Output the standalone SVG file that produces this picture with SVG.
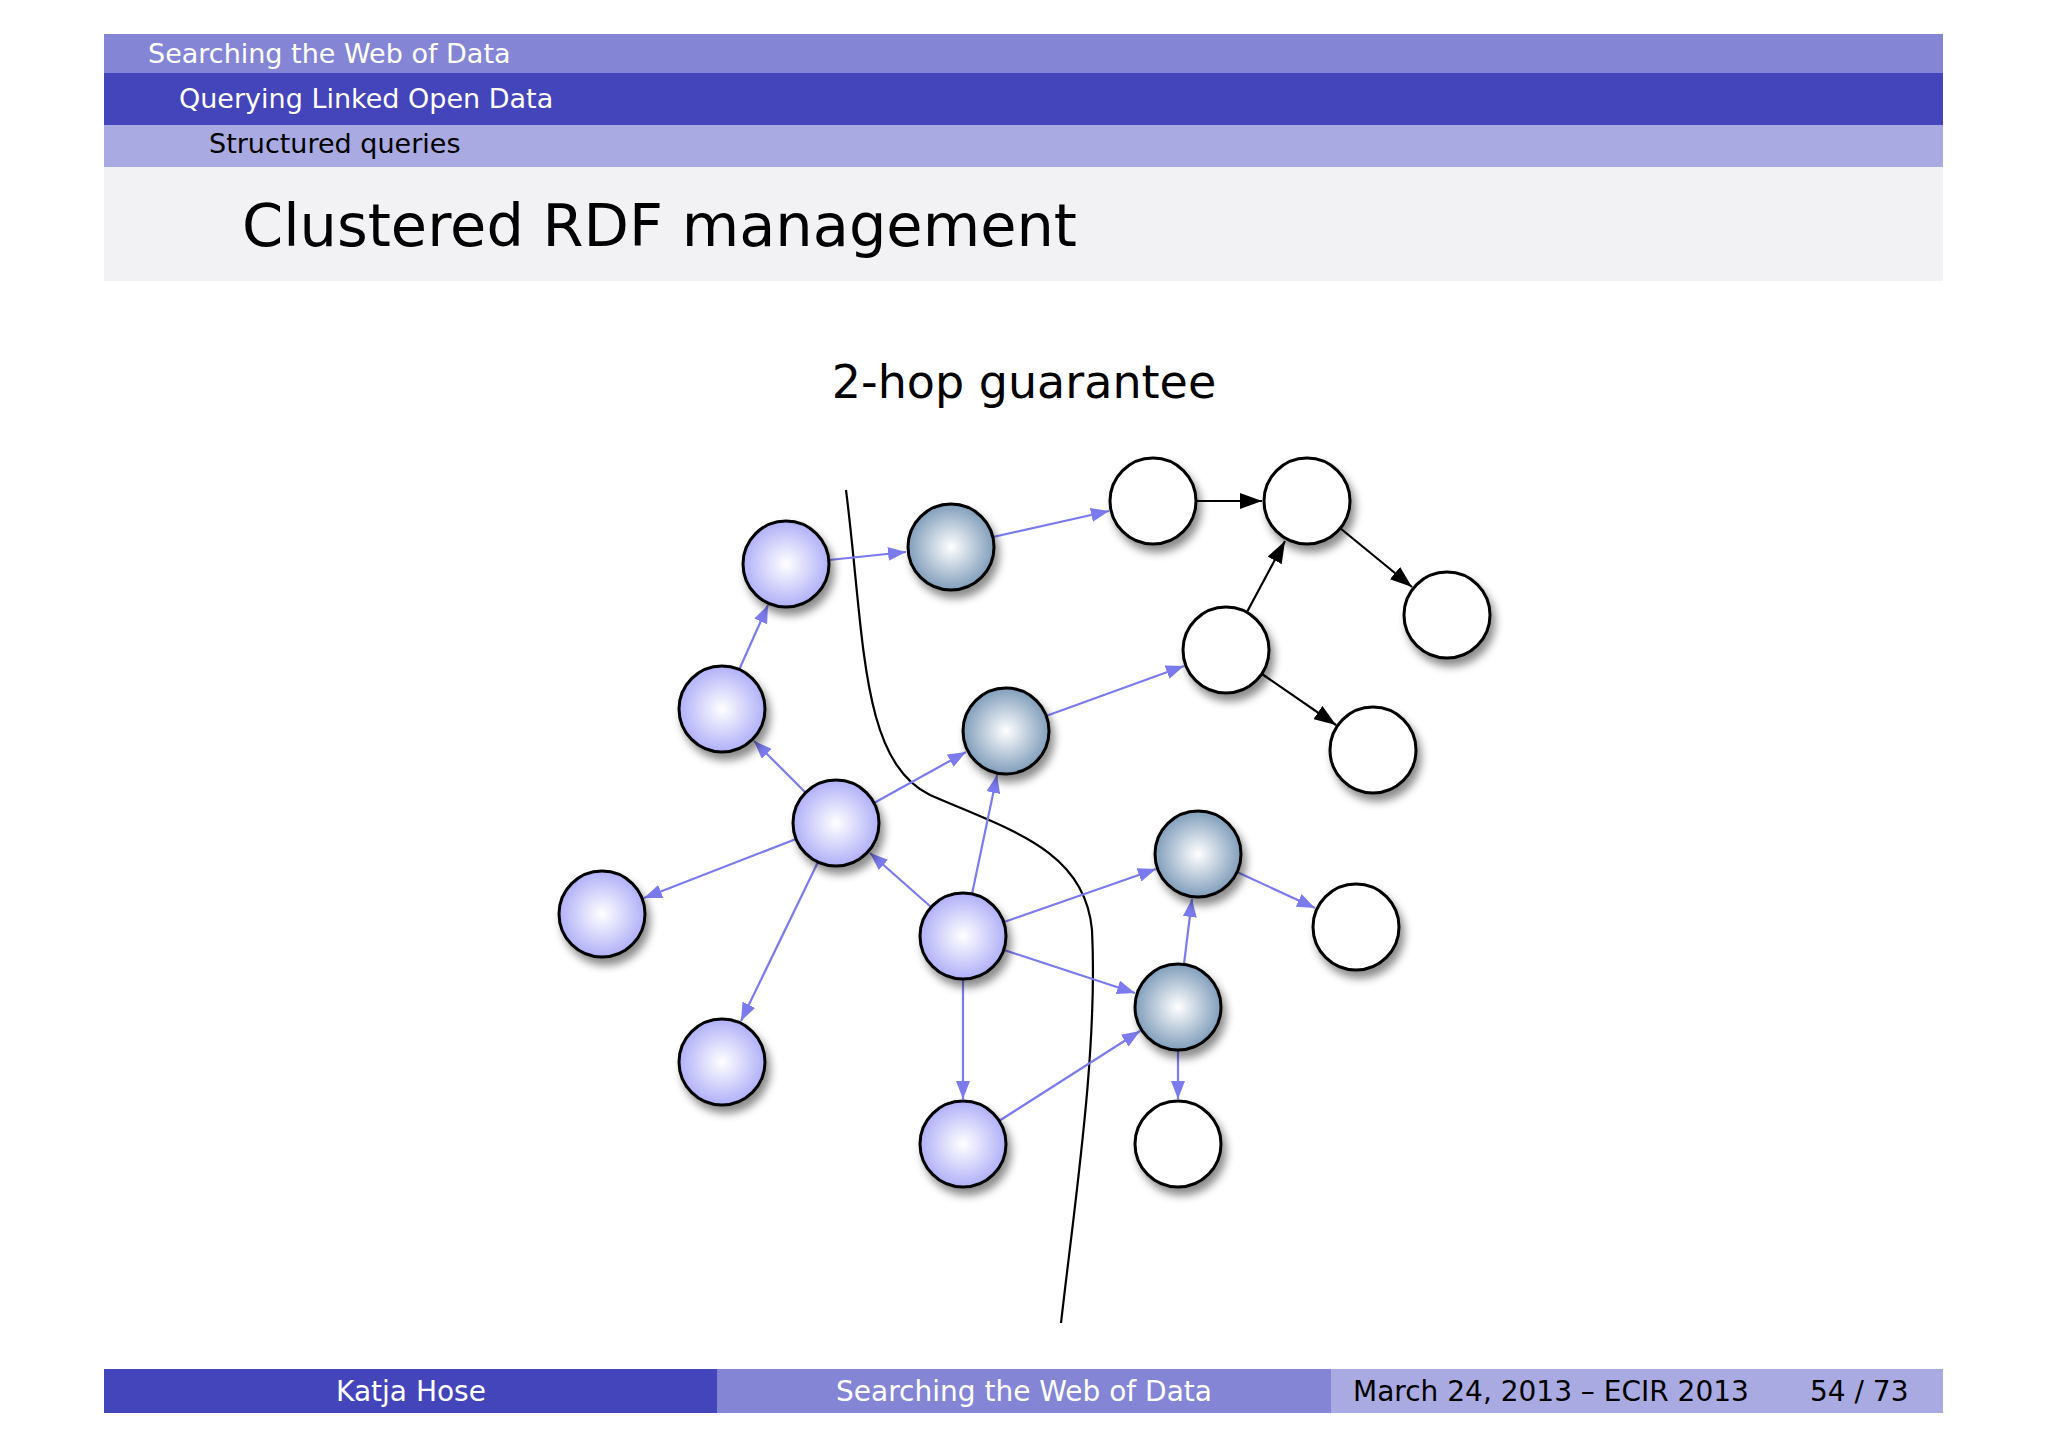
<svg xmlns="http://www.w3.org/2000/svg" width="2048" height="1448" viewBox="0 0 2048 1448">
<style>
.hd{font-family:"DejaVu Sans","Liberation Sans",sans-serif;font-size:27px;font-weight:500}
.ft{font-family:"DejaVu Sans","Liberation Sans",sans-serif;font-size:28px;fill:#fff}
.n{stroke:#000;stroke-width:3}
.e{stroke:#7b7bef;stroke-width:2.2;marker-end:url(#ap)}
.k{stroke:#000;stroke-width:2.2;marker-end:url(#ak)}
</style>
<defs>
<radialGradient id="gp" cx="0.5" cy="0.5" r="0.55"><stop offset="0" stop-color="#ffffff"/><stop offset="1" stop-color="#a8a8f8"/></radialGradient>
<radialGradient id="gb" cx="0.5" cy="0.5" r="0.55"><stop offset="0" stop-color="#ffffff"/><stop offset="1" stop-color="#7494b4"/></radialGradient>
<filter id="sh" x="-30%" y="-30%" width="170%" height="170%"><feDropShadow dx="4" dy="7" stdDeviation="4" flood-color="#000" flood-opacity="0.45"/></filter>
<marker id="ap" markerWidth="18" markerHeight="14" refX="18" refY="7" orient="auto" markerUnits="userSpaceOnUse" viewBox="0 0 18 14"><path d="M0,0 L18,7 L0,14 z" fill="#7b7bef"/></marker>
<marker id="ak" markerWidth="22" markerHeight="16" refX="22" refY="8" orient="auto" markerUnits="userSpaceOnUse" viewBox="0 0 22 16"><path d="M0,0 L22,8 L0,16 z" fill="#000"/></marker>
</defs>
<rect width="2048" height="1448" fill="#fff"/>
<rect x="104" y="34" width="1839" height="39" fill="#8585d5"/>
<rect x="104" y="73" width="1839" height="52" fill="#4444bb"/>
<rect x="104" y="125" width="1839" height="42" fill="#aaaae2"/>
<rect x="104" y="167" width="1839" height="114" fill="#f2f2f4"/>
<text class="hd" x="148" y="63" fill="#fff">Searching the Web of Data</text>
<text class="hd" x="179" y="108" fill="#fff">Querying Linked Open Data</text>
<text class="hd" x="209" y="153" fill="#000">Structured queries</text>
<text x="242" y="246" font-family="DejaVu Sans,Liberation Sans,sans-serif" font-size="59">Clustered RDF management</text>
<text x="1024" y="398" text-anchor="middle" font-family="DejaVu Sans,Liberation Sans,sans-serif" font-size="46">2-hop guarantee</text>
<path d="M846,490 C865,640 860,760 930,795 C1010,830 1085,850 1092,930 C1098,1050 1075,1200 1061,1323" fill="none" stroke="#000" stroke-width="2.2"/>
<g id="connectors">
<line class="e" x1="829" y1="560" x2="906" y2="552"/>
<line class="e" x1="993" y1="537" x2="1109" y2="511"/>
<line class="e" x1="739" y1="670" x2="768" y2="605"/>
<line class="e" x1="806" y1="793" x2="754" y2="741"/>
<line class="e" x1="874" y1="803" x2="966" y2="752"/>
<line class="e" x1="796" y1="839" x2="644" y2="898"/>
<line class="e" x1="818" y1="862" x2="741" y2="1021"/>
<line class="e" x1="931" y1="907" x2="870" y2="853"/>
<line class="e" x1="972" y1="894" x2="997" y2="775"/>
<line class="e" x1="1004" y1="922" x2="1156" y2="869"/>
<line class="e" x1="1004" y1="950" x2="1135" y2="993"/>
<line class="e" x1="963" y1="979" x2="963" y2="1099"/>
<line class="e" x1="999" y1="1121" x2="1140" y2="1031"/>
<line class="e" x1="1184" y1="964" x2="1192" y2="899"/>
<line class="e" x1="1237" y1="872" x2="1315" y2="908"/>
<line class="e" x1="1178" y1="1050" x2="1178" y2="1099"/>
<line class="e" x1="1046" y1="716" x2="1184" y2="666"/>
<line class="k" x1="1196" y1="501" x2="1262" y2="501"/>
<line class="k" x1="1340" y1="528" x2="1412" y2="587"/>
<line class="k" x1="1247" y1="612" x2="1285" y2="541"/>
<line class="k" x1="1262" y1="674" x2="1336" y2="725"/>
</g>
<g filter="url(#sh)">
<g id="A"><circle class="n" cx="786" cy="564" r="43" fill="url(#gp)"/></g>
<g id="B"><circle class="n" cx="951" cy="547" r="43" fill="url(#gb)"/></g>
<g id="C"><circle class="n" cx="1153" cy="501" r="43" fill="#fff"/></g>
<g id="D"><circle class="n" cx="1307" cy="501" r="43" fill="#fff"/></g>
<g id="E"><circle class="n" cx="1447" cy="615" r="43" fill="#fff"/></g>
<g id="F"><circle class="n" cx="1226" cy="650" r="43" fill="#fff"/></g>
<g id="G"><circle class="n" cx="1373" cy="750" r="43" fill="#fff"/></g>
<g id="H"><circle class="n" cx="722" cy="709" r="43" fill="url(#gp)"/></g>
<g id="I"><circle class="n" cx="1006" cy="731" r="43" fill="url(#gb)"/></g>
<g id="J"><circle class="n" cx="836" cy="823" r="43" fill="url(#gp)"/></g>
<g id="K"><circle class="n" cx="602" cy="914" r="43" fill="url(#gp)"/></g>
<g id="L"><circle class="n" cx="1198" cy="854" r="43" fill="url(#gb)"/></g>
<g id="M"><circle class="n" cx="1356" cy="927" r="43" fill="#fff"/></g>
<g id="N"><circle class="n" cx="963" cy="936" r="43" fill="url(#gp)"/></g>
<g id="O"><circle class="n" cx="1178" cy="1007" r="43" fill="url(#gb)"/></g>
<g id="P"><circle class="n" cx="722" cy="1062" r="43" fill="url(#gp)"/></g>
<g id="Q"><circle class="n" cx="963" cy="1144" r="43" fill="url(#gp)"/></g>
<g id="R"><circle class="n" cx="1178" cy="1144" r="43" fill="#fff"/></g>
</g>
<rect x="104" y="1369" width="613" height="44" fill="#4444bb"/>
<rect x="717" y="1369" width="614" height="44" fill="#8585d5"/>
<rect x="1331" y="1369" width="612" height="44" fill="#aaaae2"/>
<text class="ft" x="411" y="1401" text-anchor="middle">Katja Hose</text>
<text class="ft" x="1024" y="1401" text-anchor="middle">Searching the Web of Data</text>
<text class="ft" x="1353" y="1401" style="fill:#000">March 24, 2013 – ECIR 2013</text>
<text class="ft" x="1810" y="1401" style="fill:#000">54 / 73</text>
</svg>
